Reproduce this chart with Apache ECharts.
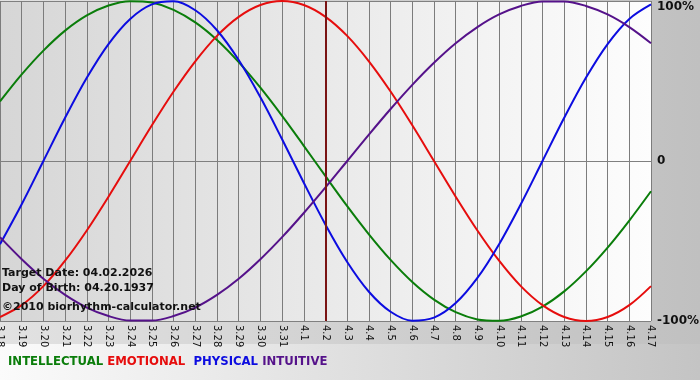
<!DOCTYPE html>
<html>
<head>
<meta charset="utf-8">
<script src="https://cdn.jsdelivr.net/npm/echarts@6/dist/echarts.min.js"></script>
<style>
html,body{margin:0;padding:0;}
#chart{width:700px;height:380px;
background:
 linear-gradient(to right,#fbfbfb,#e2e2e2 45%,#c4c4c4) left bottom/100% 36px no-repeat,
 linear-gradient(to right,#e2e2e2,#c0c0c0);}
</style>
</head>
<body>
<div id="chart"></div>
<script>
var categories = ['3.18','3.19','3.20','3.21','3.22','3.23','3.24','3.25','3.26','3.27','3.28','3.29','3.30','3.31',
  '4.1','4.2','4.3','4.4','4.5','4.6','4.7','4.8','4.9','4.10','4.11','4.12','4.13','4.14','4.15','4.16','4.17'];
var intellectual = [37.2,54.1,69.0,81.5,91.0,97.2,99.9,99.0,94.5,86.6,75.6,61.8,45.8,28.2,9.5,-9.5,-28.2,-45.8,-61.8,-75.6,-86.6,-94.5,-99.0,-99.9,-97.2,-91.0,-81.5,-69.0,-54.1,-37.2,-18.9];
var emotional = [-97.5,-90.1,-78.2,-62.3,-43.4,-22.3,0,22.3,43.4,62.3,78.2,90.1,97.5,100,97.5,90.1,78.2,62.3,43.4,22.3,0,-22.3,-43.4,-62.3,-78.2,-90.1,-97.5,-100,-97.5,-90.1,-78.2];
var physical = [-52.0,-27.0,0,27.0,52.0,73.1,88.8,97.9,99.8,94.2,81.7,63.1,39.8,13.6,-13.6,-39.8,-63.1,-81.7,-94.2,-99.8,-97.9,-88.8,-73.1,-52.0,-27.0,0,27.0,52.0,73.1,88.8,97.9];
var intuitive = [-47.6,-61.4,-73.6,-83.7,-91.6,-96.9,-99.7,-99.7,-96.9,-91.6,-83.7,-73.6,-61.4,-47.6,-32.5,-16.5,0,16.5,32.5,47.6,61.4,73.6,83.7,91.6,96.9,99.7,99.7,96.9,91.6,83.7,73.6];
var yTicks = {'100':'100%','0':'0','-100':'-100%'};
var targetDay = '4.2';
var infoLines = ['Target Date: 04.02.2026','Day of Birth: 04.20.1937','\u00A92010 biorhythm-calculator.net'];

var colors = {intellectual:'#0a7d0a', emotional:'#e60d0d', physical:'#0c0ce0', intuitive:'#55128a'};
var chart = echarts.init(document.getElementById('chart'), null, {renderer:'canvas'});
function mk(name, data, color, extra){
  var s = {name:name, type:'line', data:data, smooth:0.34, showSymbol:false, symbol:'none',
    lineStyle:{color:color, width:2}, itemStyle:{color:color}, animation:false, z:3};
  if(extra) Object.assign(s, extra);
  return s;
}
var font = '"DejaVu Sans", Verdana, sans-serif';
chart.setOption({
  backgroundColor:'transparent',
  animation:false,
  grid:{left:0, right:49, top:1, bottom:59, show:true, borderWidth:0, containLabel:false, outerBoundsMode:'none',
    backgroundColor:new echarts.graphic.LinearGradient(0,0,1,0,[{offset:0,color:'#d6d6d6'},{offset:1,color:'#fdfdfd'}])},
  xAxis:{type:'category', data:categories, boundaryGap:false,
    axisLine:{show:true, lineStyle:{color:'#808080', width:1}},
    axisTick:{show:true, length:4, alignWithLabel:true, lineStyle:{color:'#808080'}},
    splitLine:{show:true, lineStyle:{color:'#7c7c7c', width:1}},
    axisLabel:{rotate:-90, interval:0, margin:4, fontSize:10, color:'#111', fontFamily:font, hideOverlap:false}},
  yAxis:{type:'value', min:-100, max:100, interval:100, position:'right',
    axisLine:{show:false}, axisTick:{show:false},
    splitLine:{show:true, lineStyle:{color:'#808080', width:1}},
    axisLabel:{margin:6, fontSize:12, fontWeight:'bold', color:'#111', fontFamily:font,
      verticalAlignMaxLabel:'top',
      formatter:function(v){return yTicks[String(v)];}}},
  series:[
    mk('INTELLECTUAL', intellectual, colors.intellectual),
    mk('EMOTIONAL', emotional, colors.emotional, {markLine:{silent:true, symbol:'none', animation:false,
      label:{show:false}, lineStyle:{color:'#7a1414', width:2, type:'solid'}, data:[{xAxis:targetDay}]}}),
    mk('PHYSICAL', physical, colors.physical),
    mk('INTUITIVE', intuitive, colors.intuitive)
  ],
  graphic:[
    {type:'text', left:2, top:268, z:10, style:{text:infoLines[0], font:'bold 11px '+font, fill:'#111'}},
    {type:'text', left:2, top:283, z:10, style:{text:infoLines[1], font:'bold 11px '+font, fill:'#111'}},
    {type:'text', left:2, top:302, z:10, style:{text:infoLines[2], font:'bold 11px '+font, fill:'#111'}},
    {type:'text', left:8, top:356, z:10, style:{
      text:'{a|INTELLECTUAL} {b|EMOTIONAL}  {c|PHYSICAL} {d|INTUITIVE}',
      font:'bold 11.7px '+font,
      rich:{a:{fill:colors.intellectual, font:'bold 11.7px '+font},
            b:{fill:colors.emotional, font:'bold 11.7px '+font},
            c:{fill:colors.physical, font:'bold 11.7px '+font},
            d:{fill:colors.intuitive, font:'bold 11.7px '+font}}}}
  ]
});
</script>
</body>
</html>
